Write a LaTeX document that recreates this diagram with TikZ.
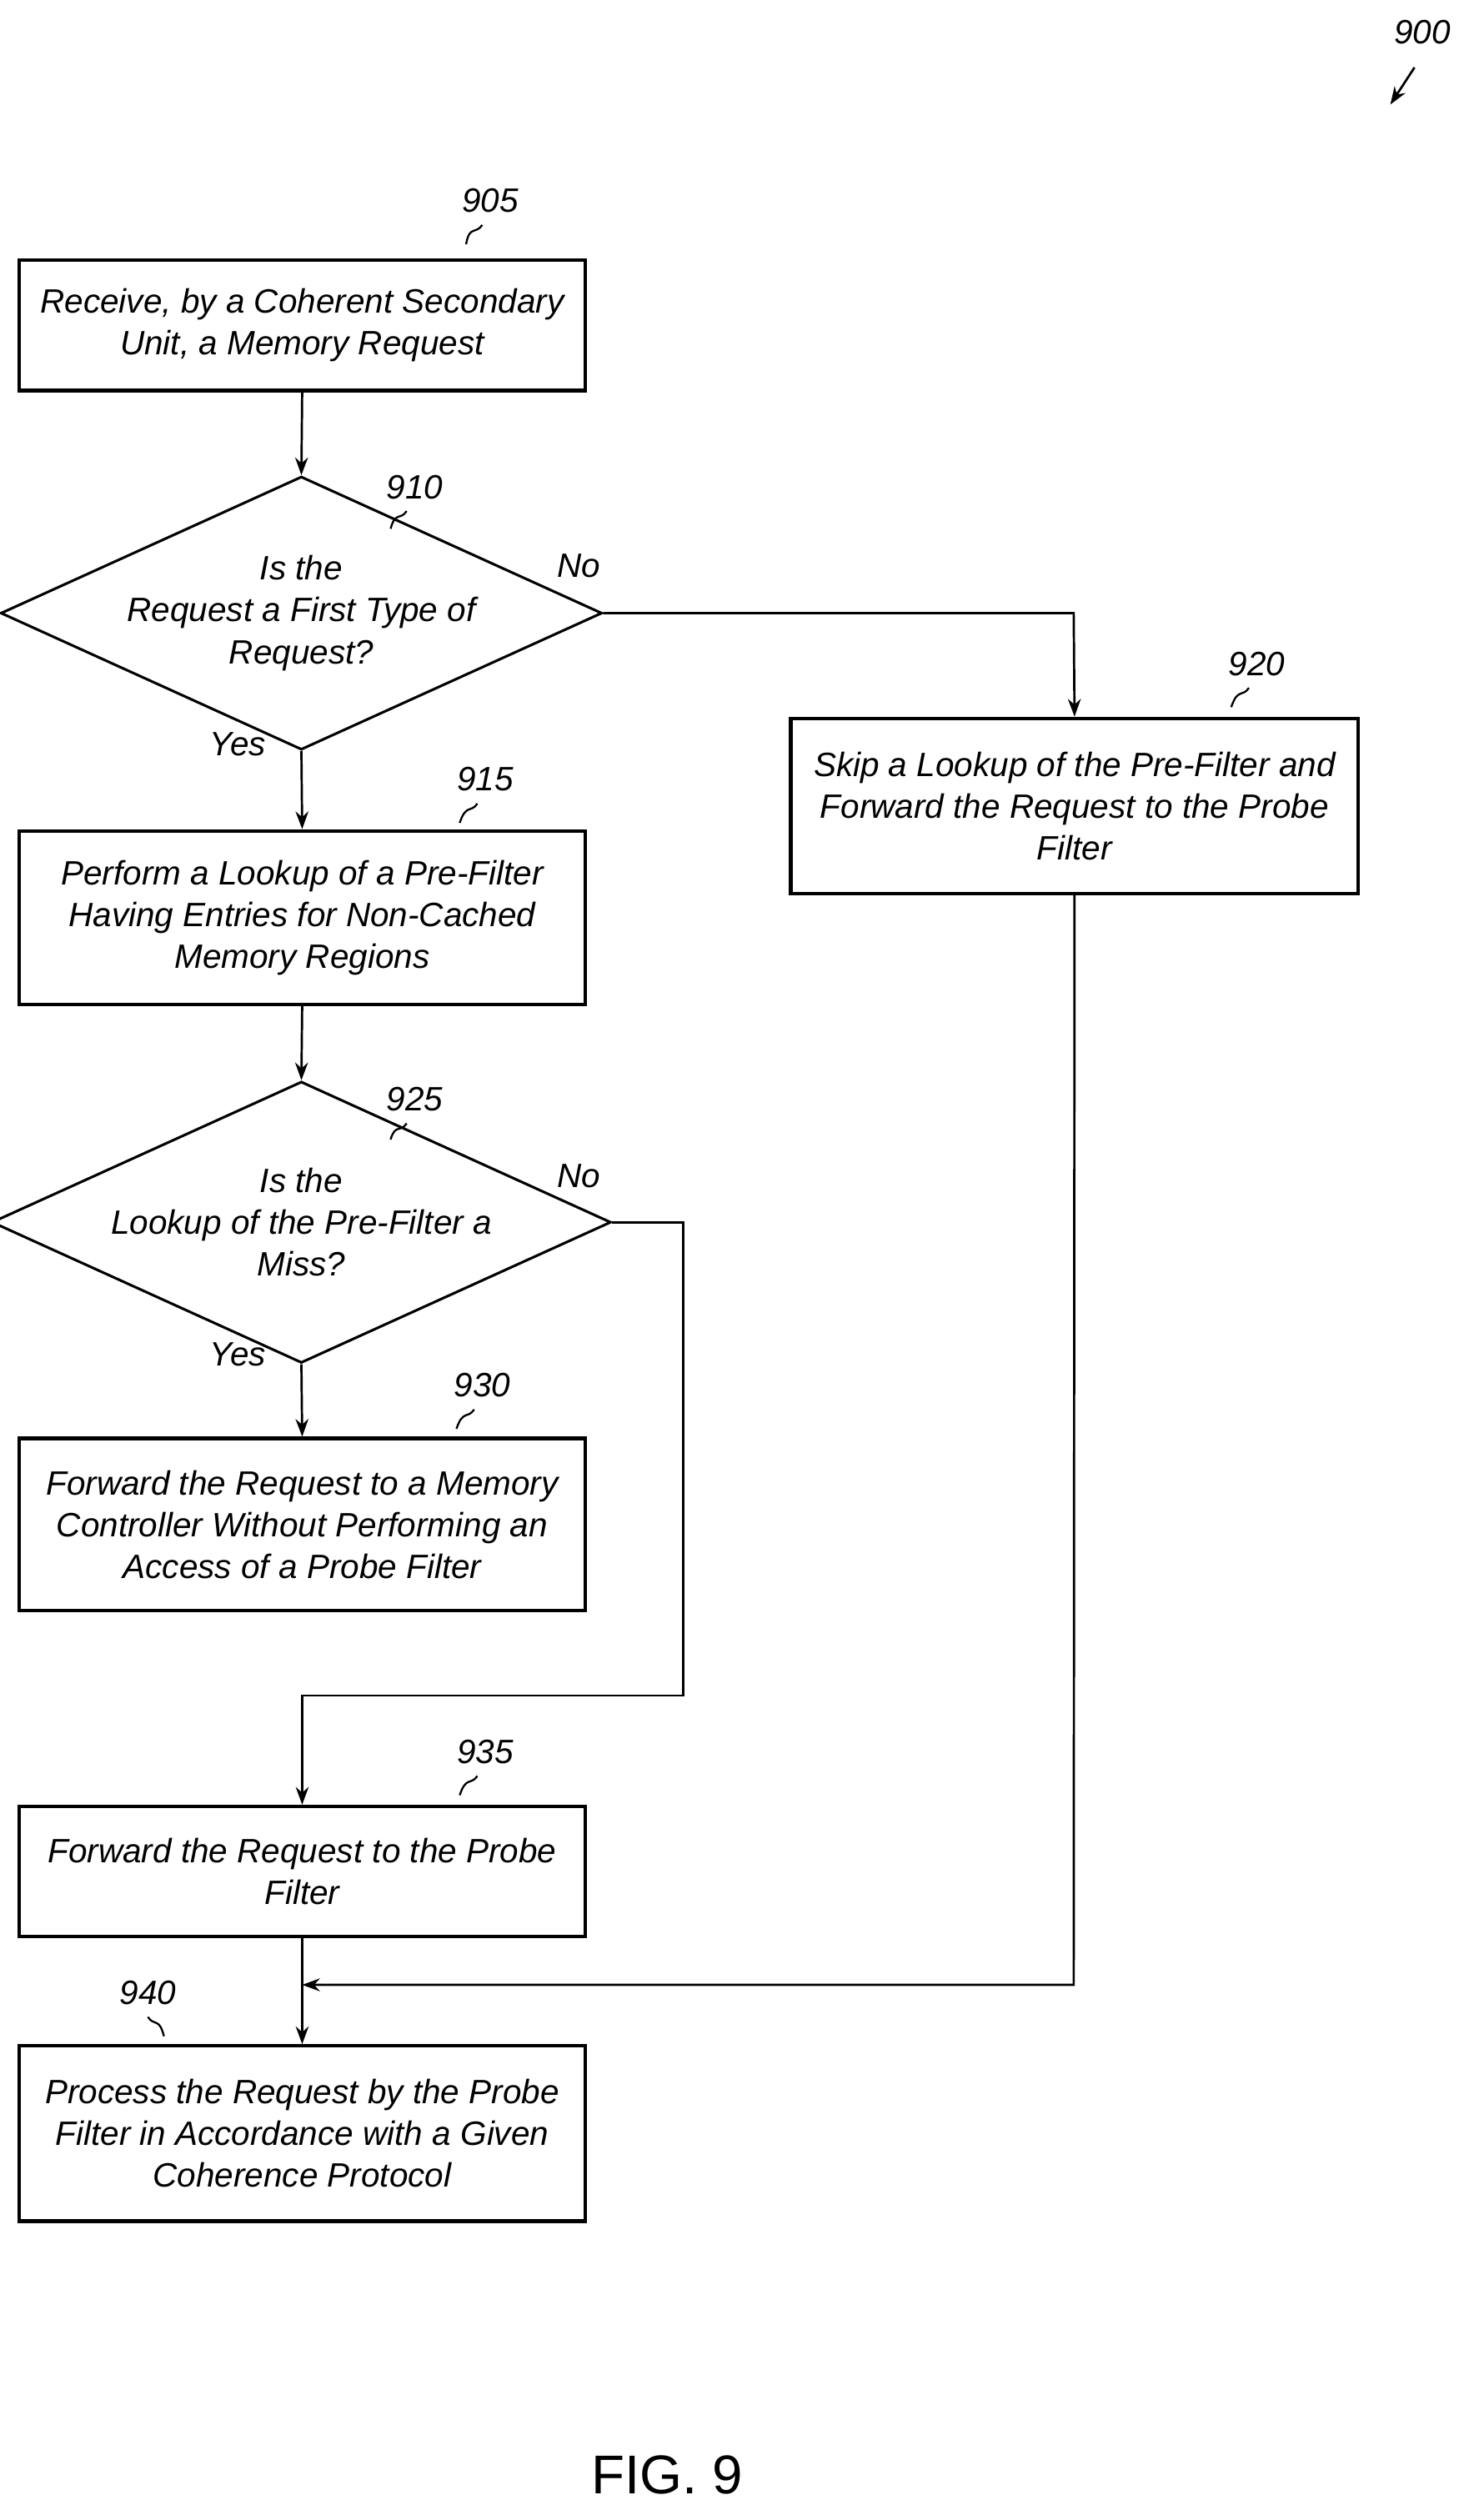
\documentclass[tikz,border=0pt]{standalone}
\usepackage{fontspec}
\setmainfont{Liberation Sans}
\usetikzlibrary{shapes.geometric,arrows.meta,decorations.pathmorphing}
\begin{document}
\begin{tikzpicture}[x=1pt,y=-1pt,
  box/.style={draw,line width=2.2pt,minimum width=352pt,inner sep=0pt,align=center,font=\fontsize{21}{26}\selectfont\itshape},
  dia/.style={draw,line width=1.6pt,diamond,aspect=2.2,minimum width=301pt,minimum height=137pt,inner sep=0pt,align=center,font=\fontsize{21}{26}\selectfont\itshape},
  lab/.style={font=\fontsize{21}{26}\selectfont\itshape},
  arr/.style={line width=1.4pt,-{Stealth[length=11pt,width=8pt]}},
  ln/.style={line width=1.4pt},
  sq/.style={line width=1.2pt}]
\useasboundingbox (0,0) rectangle (917,1568);
\node[box,minimum height=81pt] (b905) at (188,202.5) {Receive, by a Coherent Secondary\\Unit, a Memory Request};
\node[dia] (d910) at (187.5,381.5) {Is the\\Request a First Type of\\Request?};
\node[box,minimum width=353pt,minimum height=109pt] (b920) at (668.5,501.5) {Skip a Lookup of the Pre-Filter and\\Forward the Request to the Probe\\Filter};
\node[box,minimum height=108pt] (b915) at (188,571) {Perform a Lookup of a Pre-Filter\\Having Entries for Non-Cached\\Memory Regions};
\node[dia] (d925) at (187.5,760.5) {Is the\\Lookup of the Pre-Filter a\\Miss?};
\node[box,minimum height=107pt] (b930) at (188,948.5) {Forward the Request to a Memory\\Controller Without Performing an\\Access of a Probe Filter};
\node[box,minimum height=81pt] (b935) at (188,1164.5) {Forward the Request to the Probe\\Filter};
\node[box,minimum height=109pt] (b940) at (188,1327.5) {Process the Request by the Probe\\Filter in Accordance with a Given\\Coherence Protocol};
% labels
\node[lab] (l900) at (885,20) {900};
\draw[arr] (880,42) -- (865,65);
\node[lab] (l905) at (305,125) {905};
\draw[sq] (300,140) .. controls (296,146) and (292,140) .. (290,152);
\node[lab] (l910) at (258,303) {910};
\draw[sq] (253,318) .. controls (249,324) and (246,318) .. (243,329);
\node[lab] (l920) at (782,413) {920};
\draw[sq] (777,428) .. controls (773,434) and (770,428) .. (766,440);
\node[lab] (l915) at (302,485) {915};
\draw[sq] (297,500) .. controls (293,506) and (290,500) .. (286,512);
\node[lab] (l925) at (258,684) {925};
\draw[sq] (253,699) .. controls (249,705) and (246,699) .. (243,709);
\node[lab] (l930) at (300,862) {930};
\draw[sq] (295,877) .. controls (291,883) and (288,877) .. (284,889);
\node[lab] (l935) at (302,1090) {935};
\draw[sq] (297,1105) .. controls (293,1111) and (290,1105) .. (286,1117);
\node[lab] (l940) at (92,1240) {940};
\draw[sq] (92,1255) .. controls (96,1261) and (99,1255) .. (102,1267);
\node[lab] (no1) at (360,352) {No};
\node[lab] (yes1) at (148,463) {Yes};
\node[lab] (no2) at (360,732) {No};
\node[lab] (yes2) at (148,843) {Yes};
\node[font=\fontsize{34}{40}\selectfont] (fig) at (415,1540) {FIG. 9};
% connectors
\coordinate (c1) at (668,381.5);
\coordinate (c2) at (425,760.5);
\coordinate (c3) at (425,1055);
\coordinate (c4) at (188,1055);
\coordinate (c5) at (668,1235);
\coordinate (c6) at (188,1235);
\draw[arr] (b905.south) -- (d910.north);
\draw[arr] (d910.south) -- (b915.north);
\draw[arr] (d910.east) -- (c1) -- (b920.north);
\draw[arr] (b915.south) -- (d925.north);
\draw[arr] (d925.south) -- (b930.north);
\draw[arr] (d925.east) -- (c2) -- (c3) -- (c4) -- (b935.north);
\draw[arr] (b935.south) -- (b940.north);
\draw[arr] (b920.south) -- (c5) -- (c6);
\end{tikzpicture}
\end{document}
